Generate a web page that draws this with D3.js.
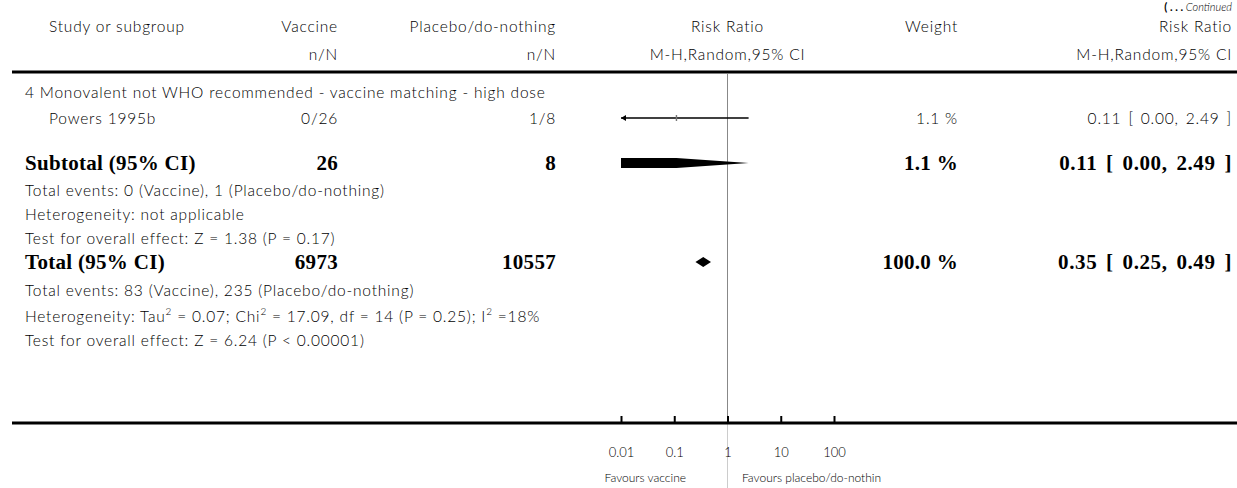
<!DOCTYPE html>
<html>
<head>
<meta charset="utf-8">
<script src="https://cdn.jsdelivr.net/npm/d3@7"></script>
<style>
  html, body { margin: 0; padding: 0; background: #fff; }
  svg { display: block; }
  .t { font-family: Lato, "Open Sans", sans-serif; font-size: 15.5px; font-weight: 300; letter-spacing: 0.8px; fill: #000; }
  .b { font-family: "Liberation Serif", "DejaVu Serif", serif; font-size: 21px; font-weight: bold; fill: #000; letter-spacing: 0.3px; }
  .t.ci { word-spacing: 2px; }
  .b.ci { word-spacing: 3px; letter-spacing: 0.6px; }
</style>
</head>
<body>
<svg id="chart" width="1237" height="488"></svg>
<script>
// Study-level rows
const studies = ["Powers 1995b"];
const vaccineEvents = [0];
const vaccineTotal = [26];
const placeboEvents = [1];
const placeboTotal = [8];
const studyWeight = ["1.1 %"];
const studyRR = [0.11];
const studyLower = [0.00];
const studyUpper = [2.49];

// Pooled estimates: subtotal for the subgroup, then overall total
const pooledLabels = ["Subtotal (95% CI)", "Total (95% CI)"];
const pooledVaccineN = [26, 6973];
const pooledPlaceboN = [8, 10557];
const pooledWeight = ["1.1 %", "100.0 %"];
const pooledRR = [0.11, 0.35];
const pooledLower = [0.00, 0.25];
const pooledUpper = [2.49, 0.49];

const subgroupTitle = "4 Monovalent not WHO recommended - vaccine matching - high dose";
const subtotalNotes = [
  "Total events: 0 (Vaccine), 1 (Placebo/do-nothing)",
  "Heterogeneity: not applicable",
  "Test for overall effect: Z = 1.38 (P = 0.17)"
];
const axisTicks = [0.01, 0.1, 1, 10, 100];
const tickLabels = ["0.01", "0.1", "1", "10", "100"];

const svg = d3.select("#chart");
const x = d3.scaleLog().domain([0.01, 100]).range([621, 834]).clamp(true);
const fmt2 = d3.format(".2f");
const ciText = (r, l, u) => `${fmt2(r)} [ ${fmt2(l)}, ${fmt2(u)} ]`;

// Column anchors
const colStudy = 49, colGroup = 25, colVac = 338, colPlc = 556, colW = 958, colRR = 1232;

function text(xp, yp, s, cls, anchor) {
  return svg.append("text").attr("class", cls).attr("x", xp).attr("y", yp)
    .attr("text-anchor", anchor || "start").attr("dominant-baseline", "middle").text(s);
}

// "(... Continued" marker
const cont = svg.append("text").attr("x", 1232).attr("y", 11).attr("text-anchor", "end")
  .attr("font-family", "Lato, sans-serif").attr("font-size", 11).attr("fill", "#000");
cont.append("tspan").text("( . . . ").attr("font-weight", "bold");
cont.append("tspan").text("Continued").attr("font-style", "italic").attr("font-weight", 300);

// Header
text(colStudy, 28, "Study or subgroup", "t");
text(colVac, 28, "Vaccine", "t", "end");
text(colPlc, 28, "Placebo/do-nothing", "t", "end");
text(x(1), 28, "Risk Ratio", "t", "middle");
text(colW, 28, "Weight", "t", "end");
text(colRR, 28, "Risk Ratio", "t", "end");
text(colVac, 56, "n/N", "t", "end");
text(colPlc, 56, "n/N", "t", "end");
text(x(1), 56, "M-H,Random,95% CI", "t", "middle");
text(colRR, 56, "M-H,Random,95% CI", "t", "end");

svg.append("line").attr("x1", 12).attr("x2", 1237).attr("y1", 72).attr("y2", 72)
  .attr("stroke", "#000").attr("stroke-width", 3);

// Line of no effect
svg.append("line").attr("x1", x(1)).attr("x2", x(1)).attr("y1", 74).attr("y2", 423)
  .attr("stroke", "#888").attr("stroke-width", 1);
svg.append("line").attr("x1", x(1)).attr("x2", x(1)).attr("y1", 423).attr("y2", 488)
  .attr("stroke", "#ccc").attr("stroke-width", 1);

text(colGroup, 94, subgroupTitle, "t");

// Study rows
const studyY = [118];
studies.forEach((s, i) => {
  const y = studyY[i];
  text(colStudy, y + 2, s, "t");
  text(colVac, y + 2, `${vaccineEvents[i]}/${vaccineTotal[i]}`, "t", "end");
  text(colPlc, y + 2, `${placeboEvents[i]}/${placeboTotal[i]}`, "t", "end");
  text(colW, y + 2, studyWeight[i], "t", "end");
  text(colRR, y + 2, ciText(studyRR[i], studyLower[i], studyUpper[i]), "t ci", "end");
  const lo = studyLower[i], hi = studyUpper[i];
  const x0 = x(Math.max(lo, 0.01)), x1 = x(hi);
  svg.append("line").attr("x1", x0).attr("x2", x1).attr("y1", y).attr("y2", y)
    .attr("stroke", "#000").attr("stroke-width", 1.3);
  if (lo < 0.01) {
    svg.append("path").attr("d", `M${x0},${y} l5,-3 l0,6 Z`).attr("fill", "#000");
  }
  svg.append("rect").attr("x", x(studyRR[i]) - 0.7).attr("y", y - 3).attr("width", 1.4).attr("height", 6)
    .attr("fill", "#777");
});

// Pooled diamonds and rows
const pooledY = [163, 262];
pooledLabels.forEach((lab, i) => {
  const y = pooledY[i];
  text(colGroup, y + 2, lab, "b");
  text(colVac, y + 2, pooledVaccineN[i], "b", "end");
  text(colPlc, y + 2, pooledPlaceboN[i], "b", "end");
  text(colW, y + 2, pooledWeight[i], "b", "end");
  text(colRR, y + 2, ciText(pooledRR[i], pooledLower[i], pooledUpper[i]), "b ci", "end");
  const h = 5;
  const xl = x(Math.max(pooledLower[i], 0.01)), xc = x(pooledRR[i]), xr = x(pooledUpper[i]);
  let d;
  if (pooledLower[i] < 0.01) {
    d = `M${xl},${y - h} L${xc},${y - h} L${xr},${y} L${xc},${y + h} L${xl},${y + h} Z`;
  } else {
    d = `M${xl},${y} L${xc},${y - h} L${xr},${y} L${xc},${y + h} Z`;
  }
  svg.append("path").attr("d", d).attr("fill", "#000");
});

// Subgroup notes
subtotalNotes.forEach((s, i) => text(colGroup, 192 + i * 24, s, "t"));

// Overall notes
text(colGroup, 292, "Total events: 83 (Vaccine), 235 (Placebo/do-nothing)", "t");
const het = svg.append("text").attr("class", "t").attr("x", colGroup).attr("y", 318).attr("dominant-baseline", "middle");
het.append("tspan").text("Heterogeneity: Tau");
het.append("tspan").text("2").attr("font-size", 10).attr("dy", -5);
het.append("tspan").text(" = 0.07; Chi").attr("dy", 5);
het.append("tspan").text("2").attr("font-size", 10).attr("dy", -5);
het.append("tspan").text(" = 17.09, df = 14 (P = 0.25); I").attr("dy", 5);
het.append("tspan").text("2").attr("font-size", 10).attr("dy", -5);
het.append("tspan").text(" =18%").attr("dy", 5);
text(colGroup, 342, "Test for overall effect: Z = 6.24 (P < 0.00001)", "t");

// Bottom axis
svg.append("line").attr("x1", 12).attr("x2", 1237).attr("y1", 423).attr("y2", 423)
  .attr("stroke", "#000").attr("stroke-width", 3);
const axis = d3.axisBottom(x).tickValues(axisTicks)
  .tickFormat((d, i) => tickLabels[i]).tickSizeInner(-7).tickSizeOuter(0).tickPadding(25);
const ag = svg.append("g").attr("transform", "translate(0,423)").call(axis);
ag.select(".domain").remove();
ag.selectAll(".tick line").attr("stroke", "#000").attr("stroke-width", 2);
ag.selectAll(".tick text").attr("font-family", "Lato, sans-serif").attr("font-size", 13)
  .attr("font-weight", 300).attr("fill", "#000");

svg.append("text").attr("x", 686).attr("y", 479).attr("text-anchor", "end").attr("dominant-baseline", "middle")
  .attr("font-family", "Lato, sans-serif").attr("font-size", 12).attr("font-weight", 300)
  .attr("fill", "#000").text("Favours vaccine");
svg.append("text").attr("x", 742).attr("y", 479).attr("dominant-baseline", "middle")
  .attr("font-family", "Lato, sans-serif").attr("font-size", 12).attr("font-weight", 300)
  .attr("fill", "#000").text("Favours placebo/do-nothin");
</script>
</body>
</html>
